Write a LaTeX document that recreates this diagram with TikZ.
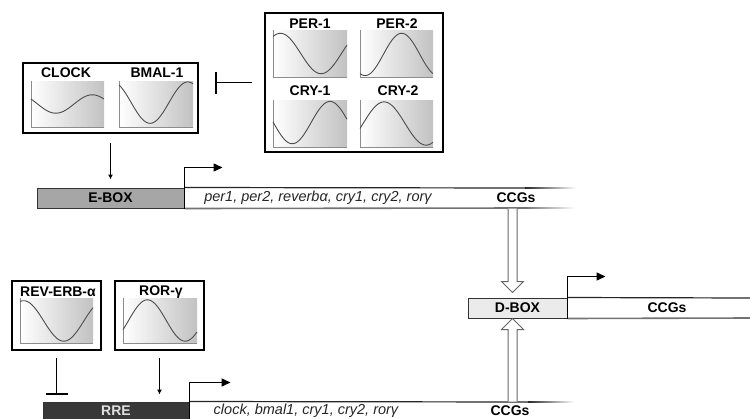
\documentclass[tikz,border=0pt]{standalone}
\usepackage{fontspec}
\setmainfont{Liberation Sans}
\usetikzlibrary{arrows.meta,calc}

% #1 x0, #2 y bottom, #3 width, #4 height, #5 centre, #6 amplitude, #7 x of max, #8 period
\newcommand\wave[8]{%
  \begin{scope}[shift={(#1,#2)}, x=#3pt, y=#4pt]
    \shade[left color=white, middle color=black!4, right color=black!24] (0,0) rectangle (1,1);
    \draw[black!45, line width=0.8pt] (0,1) -- (0,0) -- (1,0);
    \draw[black!70, line width=0.9pt] plot[domain=0:1, samples=60, smooth]
      (\x, {#5+#6*cos(360*(\x-#7)/#8)});
  \end{scope}}

\begin{document}
\begin{tikzpicture}[x=1pt, y=-1pt,
  box/.style={draw=black, line width=2pt, inner sep=0pt},
  lbl/.style={font=\fontsize{14}{16}\selectfont\bfseries, inner sep=0pt},
  gene/.style={font=\fontsize{14.5}{16}\selectfont\itshape, inner sep=0pt, text=black!85},
  arr/.style={line width=1.4pt, -{Latex[length=5pt,width=5pt]}},
  inh/.style={line width=1.4pt, -{Bar[width=22pt,line width=1.6pt]}},
  prom/.style={line width=1.5pt, -{Triangle[length=9pt,width=8pt]}},
  hollow/.style={fill=white, draw=black!60, line width=1pt},
  topline/.style={draw=black!85, line width=1.2pt},
  botline/.style={draw=black!55, line width=1.6pt}]
\useasboundingbox (0,0) rectangle (750,418);
\clip (0,0) rectangle (750,418);
\fill[white] (0,0) rectangle (750,418);

% ---------- protein boxes ----------
\node[box, minimum width=175pt, minimum height=70pt] (cb) at (110.5,98) {};
\node[box, minimum width=178pt, minimum height=139pt] (pb) at (354,82.5) {};
\node[box, minimum width=89pt, minimum height=69pt] (rb) at (56.5,315.5) {};
\node[box, minimum width=89pt, minimum height=69pt] (ob) at (159.5,315.5) {};

\wave{31}{127}{73}{46}{0.5}{0.2}{0.84}{1}
\wave{119}{127}{74}{46}{0.53}{0.45}{0.93}{1.02}
\wave{273}{77}{74}{47}{0.5}{0.43}{0.1}{1.1}
\wave{360}{77}{73}{47}{0.48}{0.45}{0.57}{1.0}
\wave{273}{147}{74}{47}{0.52}{0.45}{0.77}{1.02}
\wave{360}{147}{73}{47}{0.5}{0.46}{0.33}{1.15}
\wave{20}{343}{73}{45}{0.49}{0.45}{0.05}{1.1}
\wave{123}{343}{74}{45}{0.5}{0.46}{0.33}{1.02}

\node[lbl] (lclock) at (66,73) {CLOCK};
\node[lbl] (lbmal) at (157,73) {BMAL-1};
\node[lbl] (lper1) at (310,24) {PER-1};
\node[lbl] (lper2) at (397,24) {PER-2};
\node[lbl] (lcry1) at (310,91) {CRY-1};
\node[lbl] (lcry2) at (398,91) {CRY-2};
\node[lbl] (lrev) at (58,292) {REV-ERB-α};
\node[lbl] (lror) at (161,292) {ROR-γ};

% ---------- E-box bar ----------
\node[draw=black!80, line width=1pt, fill=black!35, minimum width=147pt, minimum height=20pt, inner sep=0pt, lbl] (ebox) at (110.5,198) {E-BOX};
\draw[topline] (ebox.north east) -- (525,188);
\shade[left color=black!85, right color=white] (525,187.4) rectangle (576,188.6);
\draw[botline] (ebox.south east) -- (525,208);
\shade[left color=black!55, right color=white] (525,207.2) rectangle (576,208.8);
\node[gene] (egenes) at (318,198) {per1, per2, reverbα, cry1, cry2, rorγ};
\node[lbl] (eccg) at (516,198) {CCGs};

% ---------- D-box bar ----------
\node[draw=black!80, line width=1pt, fill=black!8, minimum width=99pt, minimum height=20pt, inner sep=0pt, lbl] (dbox) at (517.5,308) {D-BOX};
\draw[topline] (dbox.north east) -- (750,298);
\draw[botline] (dbox.south east) -- (750,318);
\node[lbl] (dccg) at (667,308) {CCGs};

% ---------- RRE bar ----------
\node[draw=black!80, line width=1pt, fill=black!78, minimum width=146pt, minimum height=20pt, inner sep=0pt] (rre) at (116,412) {};
\node[lbl, text=black!12] (rretext) at (116,410.5) {RRE};
\draw[topline] (rre.north east) -- (528,402);
\shade[left color=black!85, right color=white] (528,401.4) rectangle (574,402.6);
\draw[botline] (rre.south east) -- (528,422);
\node[gene] (rgenes) at (306,410.5) {clock, bmal1, cry1, cry2, rorγ};
\node[lbl] (rccg) at (510,410.5) {CCGs};

% ---------- promoter arrows ----------
\draw[prom] (ebox.south east) -- ($(ebox.north east)+(0,-20)$) -- ++(38,0);
\draw[prom] (dbox.south east) -- ($(dbox.north east)+(0,-21)$) -- ++(38,0);
\draw[prom] (rre.south east) -- ($(rre.north east)+(0,-19)$) -- ++(41,0);

% ---------- regulation ----------
\draw[arr, shorten <=9pt, shorten >=8pt] (cb.south) -- (cb.south |- ebox.north);
\draw[inh, shorten <=12pt, shorten >=16pt] (pb.west) -- (pb.west -| cb.east);
\draw[inh, shorten <=7pt, shorten >=7pt] (rb.south) -- (rb.south |- rre.north);
\draw[arr, shorten <=7pt, shorten >=7pt] (ob.south) -- (ob.south |- rre.north);

% ---------- hollow arrows to D-box ----------
\coordinate (hx) at (512.5,0);
\coordinate (d1) at (hx |- ebox.south);
\coordinate (d2) at ($(hx |- dbox.north)+(0,-5)$);
\filldraw[hollow] ($(d1)+(-4.5,0)$) -- ($(d2)+(-4.5,-11)$) -- ($(d2)+(-11,-11)$) -- (d2)
  -- ($(d2)+(11,-11)$) -- ($(d2)+(4.5,-11)$) -- ($(d1)+(4.5,0)$);
\coordinate (u1) at (hx |- rre.north);
\coordinate (u2) at (hx |- dbox.south);
\filldraw[hollow] ($(u1)+(-4.5,0)$) -- ($(u2)+(-4.5,11)$) -- ($(u2)+(-11,11)$) -- (u2)
  -- ($(u2)+(11,11)$) -- ($(u2)+(4.5,11)$) -- ($(u1)+(4.5,0)$);
\end{tikzpicture}
\end{document}
